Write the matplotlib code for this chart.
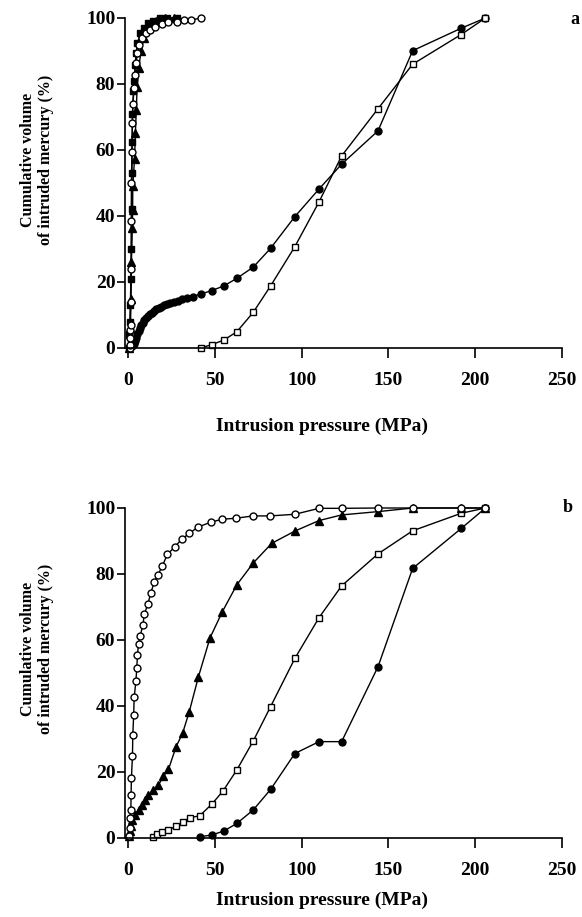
import matplotlib
matplotlib.use('Agg')
import matplotlib.pyplot as plt

plt.rcParams['font.family'] = ['Liberation Serif', 'DejaVu Serif']
plt.rcParams['font.weight'] = 'bold'

# panel a
a_fc_x = [1, 2, 3, 3.8, 4.5, 5.2, 5.9, 6.6, 7.3, 8.1, 9, 10, 11, 12.2, 13.4, 14.7, 16, 17.5, 19, 20.5,
	22.2, 24, 26, 28.5, 31, 34, 37, 42, 48, 55, 62.5, 72, 82, 96, 110, 123, 144, 164, 192, 206]
a_fc_y = [0.2, 0.5, 1.2, 2, 3, 4.2, 5.3, 6.2, 7, 7.7, 8.4, 9, 9.6, 10.2, 10.7, 11.2, 11.7, 12.1, 12.5, 12.9,
	13.3, 13.6, 14, 14.3, 14.7, 15.2, 15.6, 16.4, 17.4, 18.8, 21.1, 24.5, 30.2, 39.8, 48.2, 55.7, 65.8, 90.1, 96.9, 100]

a_os_x = [42, 48, 55, 62.5, 72, 82, 96, 110, 123, 144, 164, 192, 206]
a_os_y = [0.1, 1, 2.4, 4.9, 10.8, 18.8, 30.7, 44.3, 58.2, 72.5, 86, 95, 100]

a_fs_x = [0.2, 0.5, 0.8, 1.1, 1.4, 1.7, 1.9, 2.0, 2.1, 2.3, 2.9, 3.3, 3.9, 4.4, 5.2, 6.8, 8.7, 11.5, 14.4, 18.3, 22.0, 28.0]
a_fs_y = [0, 4, 8, 13, 21, 30, 42, 53, 62.5, 71, 78, 81, 85.8, 89.3, 92.3, 95.4, 96.9, 98.4, 99.2, 99.9, 100, 100]

a_ft_x = [0.5, 0.9, 1.3, 1.7, 2.2, 2.4, 2.5, 3.5, 4.0, 4.5, 5.0, 6.0, 7.2, 9.0, 12, 16, 21, 26]
a_ft_y = [0, 6, 15, 26, 36.3, 41.8, 49.2, 57.2, 65, 72, 79, 85, 90, 94, 97, 99, 100, 100]

a_oc_x = [0.8, 0.9, 1.0, 1.1, 1.2, 1.4, 1.6, 1.6, 1.7, 2.0, 2.3, 2.5, 3.3, 3.5, 4.3, 5.2, 6.3, 7.7, 10.2, 12.5,
	15.4, 19.3, 23.1, 27.9, 32.3, 36.0, 42.0]
a_oc_y = [0, 1, 3, 5.5, 7, 14, 24, 38.5, 50, 59.5, 68.3, 73.9, 78.7, 82.7, 86.3, 89.3, 91.8, 93.8, 95.4, 96.4,
	97.4, 98.2, 98.9, 98.9, 99.4, 99.4, 100]

# panel b
b_oc_x = [0.3, 0.6, 1.0, 1.4, 1.5, 1.7, 2.3, 2.5, 3.0, 3.3, 4.3, 4.8, 5.2, 5.8, 6.8, 8.3, 9.2, 11.2, 12.9, 15, 17,
	19.6, 22.5, 26.9, 30.8, 35.2, 40, 47.5, 54.1, 62.1, 71.8, 81.8, 96, 110, 123, 144, 164, 192, 206]
b_oc_y = [0.5, 2.9, 6.0, 8.5, 13.0, 18.1, 24.8, 31.2, 37.3, 42.6, 47.6, 51.4, 55.5, 58.8, 61.3, 64.5, 67.9, 70.9,
	74.3, 77.7, 79.7, 82.5, 86.0, 88.3, 90.6, 92.3, 94.2, 95.7, 96.6, 96.9, 97.6, 97.6, 98.1, 99.9, 99.9, 100, 100, 100, 100]

b_ft_x = [0.3, 0.8, 1.3, 1.9, 3.9, 5.8, 7.7, 9.6, 11.5, 14.4, 17.3, 20.2, 23.1, 27.5, 31.2, 35, 40.4, 47.1, 54.2,
	62.5, 72.1, 82.7, 96, 110, 123, 144, 164, 192, 206]
b_ft_y = [0.5, 2, 3.5, 5.5, 7, 8.5, 10, 11.5, 13, 14.5, 16, 18.8, 20.8, 27.7, 31.7, 38.1, 48.9, 60.7, 68.6,
	76.7, 83.4, 89.3, 93, 96.2, 97.9, 98.9, 100, 100, 100]

b_os_x = [14.4, 16.7, 19.6, 23.1, 27.5, 31.4, 35.6, 41, 48, 54.5, 62.5, 72, 82, 96, 110, 123, 144, 164, 192, 206]
b_os_y = [0.4, 1.1, 1.9, 2.4, 3.6, 4.9, 6.2, 6.7, 10.2, 14.2, 20.6, 29.4, 39.8, 54.4, 66.8, 76.4, 86.1, 93.1, 98.4, 100]

b_fc_x = [41.4, 48, 55, 62.5, 72, 82, 96, 110, 123, 144, 164, 192, 206]
b_fc_y = [0.4, 0.9, 2.1, 4.4, 8.5, 14.7, 25.6, 29.2, 29.2, 51.9, 81.7, 93.8, 100]

xticks = [0, 50, 100, 150, 200, 250]
yticks = [0, 20, 40, 60, 80, 100]

W, H = 582.0, 917.0
fig = plt.figure(figsize=(W/100, H/100), dpi=100)

def series(ax, x, y, marker, filled, ms=5):
	ax.plot(x, y, color='black', lw=1.0, marker=marker, ms=ms, mew=1.0,
		mfc='black' if filled else 'white', mec='black', clip_on=False)

def setup(ax):
	ax.set_xlim(-2, 250)
	ax.set_ylim(0, 100)
	ax.set_xticks(xticks)
	ax.set_yticks(yticks)
	ax.spines['top'].set_visible(False)
	ax.spines['right'].set_visible(False)
	ax.spines['left'].set_linewidth(1.2)
	ax.spines['bottom'].set_linewidth(1.2)
	ax.tick_params(axis='x', direction='out', length=7, width=1.2, pad=10, labelsize=14)
	ax.tick_params(axis='y', direction='out', length=6, width=1.2, pad=1, labelsize=14)
	for lab in ax.get_xticklabels() + ax.get_yticklabels():
		lab.set_fontweight('bold')

ax1 = fig.add_axes([125/W, 1-348/H, (561.7-125)/W, 330/H])
setup(ax1)
series(ax1, a_fc_x, a_fc_y, 'o', True)
series(ax1, a_os_x, a_os_y, 's', False)
series(ax1, a_fs_x, a_fs_y, 's', True)
series(ax1, a_ft_x, a_ft_y, '^', True, 5.5)
series(ax1, a_oc_x, a_oc_y, 'o', False)

ax2 = fig.add_axes([125/W, 1-838/H, (561.7-125)/W, 330/H])
setup(ax2)
series(ax2, b_fc_x, b_fc_y, 'o', True)
series(ax2, b_os_x, b_os_y, 's', False)
series(ax2, b_ft_x, b_ft_y, '^', True, 5.5)
series(ax2, b_oc_x, b_oc_y, 'o', False)

ylab = 'Cumulative volume\nof intruded mercury (%)'
for yc, xc in [(160, 426), (649, 900)]:
	fig.text(37/W, 1-yc/H, ylab, rotation=90, ha='center', va='center', multialignment='center',
		fontsize=11.5, fontweight='bold', linespacing=1.25)
	fig.text(322/W, 1-xc/H, 'Intrusion pressure (MPa)', ha='center', va='center', fontsize=14, fontweight='bold')

fig.text(575/W, 1-20/H, 'a', ha='center', va='center', fontsize=13, fontweight='bold')
fig.text(568/W, 1-507/H, 'b', ha='center', va='center', fontsize=13, fontweight='bold')

plt.savefig('out.png', dpi=100)
